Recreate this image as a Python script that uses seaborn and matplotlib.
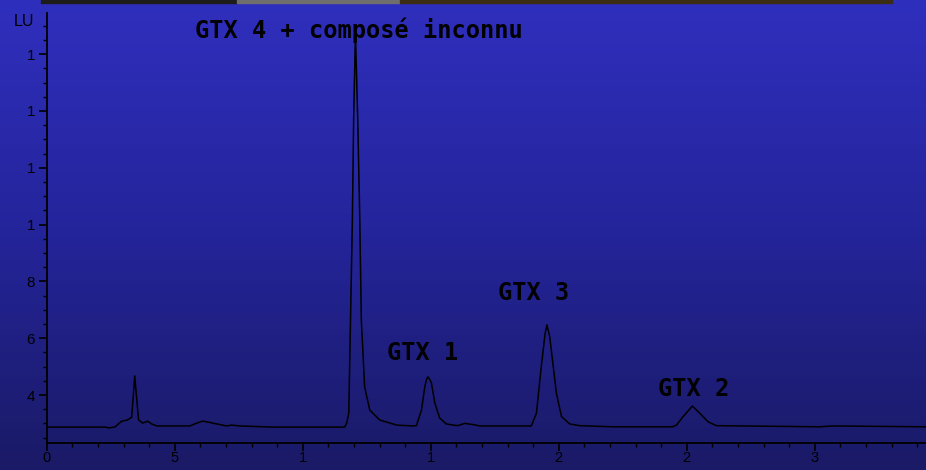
import matplotlib
matplotlib.use("Agg")
import matplotlib.pyplot as plt
import seaborn as sns
import numpy as np
from matplotlib.patches import Rectangle
from matplotlib.colors import LinearSegmentedColormap
from matplotlib.ticker import MultipleLocator

# chromatogram trace (time in min, signal in LU)
time_min = [0.00, 2.34, 2.38, 2.66, 2.93, 3.16, 3.32, 3.44, 3.52, 3.59, 3.75, 3.95,
            4.10, 4.30, 4.49, 4.92, 5.59, 5.86, 6.09, 6.29, 6.64, 7.03, 7.23, 7.54,
            8.83, 11.45, 11.64, 11.72, 11.80, 11.94, 11.99, 12.06, 12.15, 12.23,
            12.29, 12.42, 12.62, 13.01, 13.67, 14.30, 14.44, 14.64, 14.77, 14.83,
            14.89, 14.96, 15.03, 15.16, 15.35, 15.61, 16.05, 16.33, 16.72, 16.91,
            18.93, 19.13, 19.32, 19.47, 19.54, 19.65, 19.71, 19.91, 20.11, 20.43,
            20.82, 22.11, 24.45, 24.60, 24.86, 25.22, 25.51, 25.83, 26.16, 30.20,
            30.70, 34.34]
signal_lu = [2.87, 2.87, 2.84, 2.87, 3.08, 3.12, 3.22, 4.67, 3.82, 3.12, 3.01, 3.08,
             2.98, 2.91, 2.91, 2.91, 2.91, 3.01, 3.08, 3.05, 2.98, 2.91, 2.94, 2.91,
             2.87, 2.87, 2.87, 3.01, 3.37, 10.16, 13.68, 16.75, 13.68, 10.16,
             6.64, 4.28, 3.47, 3.12, 2.94, 2.91, 2.92, 3.47, 4.29, 4.53,
             4.64, 4.55, 4.42, 3.72, 3.19, 2.98, 2.92, 3.00, 2.95, 2.91,
             2.91, 3.36, 5.00, 6.17, 6.47, 6.05, 5.59, 4.06, 3.24, 2.98,
             2.92, 2.88, 2.88, 2.94, 3.24, 3.61, 3.36, 3.06, 2.92, 2.88,
             2.91, 2.88]

x_ticks = [0, 5, 10, 15, 20, 25, 30]
x_labels = ["0", "5", "1", "1", "2", "2", "3"]
y_ticks = [4, 6, 8, 10, 12, 14, 16]
y_labels = ["4", "6", "8", "1", "1", "1", "1"]

peak_names = ["GTX 4 + composé inconnu", "GTX 1", "GTX 3", "GTX 2"]
peak_label_x = [5.78, 13.28, 17.62, 23.87]
peak_label_y = [16.85, 5.48, 7.59, 4.21]

sns.set_style("ticks")
plt.rcParams['font.family'] = ['Liberation Sans', 'DejaVu Sans']

W, H = 926, 470
fig = plt.figure(figsize=(W / 100, H / 100), dpi=100)

# blue gradient backdrop
bg = fig.add_axes([0, 0, 1, 1], zorder=0)
cmap = LinearSegmentedColormap.from_list("bg", ["#2f2fbe", "#24249a", "#1a1a66"])
bg.imshow(np.linspace(0, 1, 256)[:, None], aspect="auto", cmap=cmap, extent=[0, 1, 0, 1])
bg.axis("off")

# thin image strip at the very top
for x0, x1, c in [(41, 237, "#1c1c1c"), (237, 400, "#6e6e6e"), (400, 892, "#3b2c14")]:
    fig.patches.append(Rectangle((x0 / W, 1 - 3 / H), (x1 - x0) / W, 3 / H,
                                 transform=fig.transFigure, color=c, zorder=2))

left = 46.7 / W
ax = fig.add_axes([left, 27 / H, 1 - left, 430 / H], zorder=1)
ax.patch.set_alpha(0)

sns.lineplot(x=time_min, y=signal_lu, ax=ax, color="black", lw=1.1,
             estimator=None, sort=False)

ax.set_xlim(0, (W - 46.7) / 25.6)
ax.set_ylim(2.31, 17.45)
ax.set_xticks(x_ticks)
ax.set_xticklabels(x_labels)
ax.set_yticks(y_ticks)
ax.set_yticklabels(y_labels)
ax.xaxis.set_minor_locator(MultipleLocator(1))
ax.yaxis.set_minor_locator(MultipleLocator(0.5))
ax.tick_params(which="major", length=5.5, width=1.2, colors="black", labelsize=11)
ax.tick_params(axis="x", which="major", pad=0.5, labelsize=10.5)
ax.tick_params(axis="y", which="major", pad=3)
ax.tick_params(which="minor", length=3, width=1.0, colors="black")
for s in ["top", "right"]:
    ax.spines[s].set_visible(False)
for s in ["left", "bottom"]:
    ax.spines[s].set_color("black")
    ax.spines[s].set_linewidth(1.3)
ax.set_xlabel("")
ax.set_ylabel("")

fig.text(24 / W, 1 - 22 / H, "LU", ha="center", va="center", fontsize=11.5, color="black")

for name, px, py in zip(peak_names, peak_label_x, peak_label_y):
    ax.text(px, py, name, ha="left", va="center", fontsize=17, fontweight="bold",
            family=["DejaVu Sans Mono"], color="black")

fig.savefig("out.png", dpi=100)
